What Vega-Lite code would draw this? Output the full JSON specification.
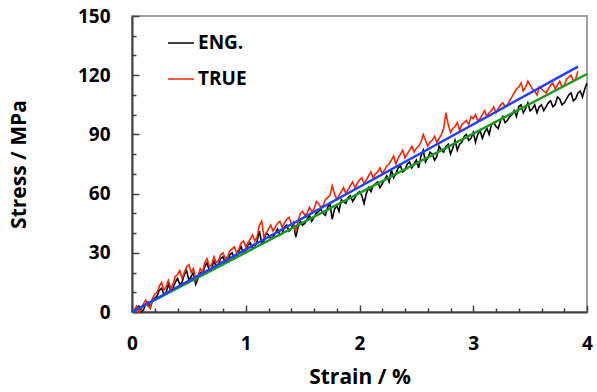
{
  "$schema": "https://vega.github.io/schema/vega-lite/v6.json",
  "width": 455,
  "height": 296,
  "autosize": {"type": "none"},
  "padding": {"left": 132, "top": 16, "right": 10, "bottom": 80},
  "config": {
    "view": {"stroke": "#a0a0a0", "strokeWidth": 2},
    "font": "Open Sans",
    "axis": {"grid": false, "labelFont": "Open Sans", "titleFont": "Open Sans", "labelFontWeight": "bold", "titleFontWeight": "bold", "labelColor": "#000", "titleColor": "#000", "tickColor": "#404040", "domainColor": "#404040", "labelOverlap": false, "labelFlush": false, "labelBound": false}
  },
  "datasets": {
    "raw": [
      {"strain":0.00,"stress":0,"series":"ENG."},{"strain":0.04,"stress":2,"series":"ENG."},{"strain":0.08,"stress":0,"series":"ENG."},{"strain":0.12,"stress":4,"series":"ENG."},{"strain":0.16,"stress":2,"series":"ENG."},{"strain":0.20,"stress":7,"series":"ENG."},{"strain":0.24,"stress":11,"series":"ENG."},{"strain":0.28,"stress":9,"series":"ENG."},{"strain":0.32,"stress":14,"series":"ENG."},{"strain":0.36,"stress":12,"series":"ENG."},{"strain":0.40,"stress":17,"series":"ENG."},{"strain":0.44,"stress":15,"series":"ENG."},{"strain":0.48,"stress":21,"series":"ENG."},{"strain":0.52,"stress":18,"series":"ENG."},{"strain":0.56,"stress":14,"series":"ENG."},{"strain":0.60,"stress":20,"series":"ENG."},{"strain":0.64,"stress":23,"series":"ENG."},{"strain":0.68,"stress":21,"series":"ENG."},{"strain":0.72,"stress":26,"series":"ENG."},{"strain":0.76,"stress":24,"series":"ENG."},{"strain":0.80,"stress":28,"series":"ENG."},{"strain":0.84,"stress":26,"series":"ENG."},{"strain":0.88,"stress":30,"series":"ENG."},{"strain":0.92,"stress":28,"series":"ENG."},{"strain":0.96,"stress":33,"series":"ENG."},{"strain":1.00,"stress":31,"series":"ENG."},{"strain":1.04,"stress":35,"series":"ENG."},{"strain":1.08,"stress":33,"series":"ENG."},{"strain":1.12,"stress":41,"series":"ENG."},{"strain":1.16,"stress":36,"series":"ENG."},{"strain":1.20,"stress":39,"series":"ENG."},{"strain":1.24,"stress":38,"series":"ENG."},{"strain":1.28,"stress":42,"series":"ENG."},{"strain":1.32,"stress":40,"series":"ENG."},{"strain":1.36,"stress":44,"series":"ENG."},{"strain":1.40,"stress":42,"series":"ENG."},{"strain":1.44,"stress":38,"series":"ENG."},{"strain":1.48,"stress":46,"series":"ENG."},{"strain":1.52,"stress":45,"series":"ENG."},{"strain":1.56,"stress":49,"series":"ENG."},{"strain":1.60,"stress":48,"series":"ENG."},{"strain":1.64,"stress":51,"series":"ENG."},{"strain":1.68,"stress":50,"series":"ENG."},{"strain":1.72,"stress":53,"series":"ENG."},{"strain":1.76,"stress":47,"series":"ENG."},{"strain":1.80,"stress":54,"series":"ENG."},{"strain":1.84,"stress":57,"series":"ENG."},{"strain":1.88,"stress":55,"series":"ENG."},{"strain":1.92,"stress":59,"series":"ENG."},{"strain":1.96,"stress":58,"series":"ENG."},{"strain":2.00,"stress":61,"series":"ENG."},{"strain":2.04,"stress":55,"series":"ENG."},{"strain":2.08,"stress":63,"series":"ENG."},{"strain":2.12,"stress":64,"series":"ENG."},{"strain":2.16,"stress":66,"series":"ENG."},{"strain":2.20,"stress":65,"series":"ENG."},{"strain":2.24,"stress":69,"series":"ENG."},{"strain":2.28,"stress":72,"series":"ENG."},{"strain":2.32,"stress":70,"series":"ENG."},{"strain":2.36,"stress":74,"series":"ENG."},{"strain":2.40,"stress":72,"series":"ENG."},{"strain":2.44,"stress":76,"series":"ENG."},{"strain":2.48,"stress":75,"series":"ENG."},{"strain":2.52,"stress":73,"series":"ENG."},{"strain":2.56,"stress":82,"series":"ENG."},{"strain":2.60,"stress":78,"series":"ENG."},{"strain":2.64,"stress":80,"series":"ENG."},{"strain":2.68,"stress":79,"series":"ENG."},{"strain":2.72,"stress":82,"series":"ENG."},{"strain":2.76,"stress":84,"series":"ENG."},{"strain":2.80,"stress":80,"series":"ENG."},{"strain":2.84,"stress":87,"series":"ENG."},{"strain":2.88,"stress":85,"series":"ENG."},{"strain":2.92,"stress":89,"series":"ENG."},{"strain":2.96,"stress":87,"series":"ENG."},{"strain":3.00,"stress":91,"series":"ENG."},{"strain":3.04,"stress":90,"series":"ENG."},{"strain":3.08,"stress":88,"series":"ENG."},{"strain":3.12,"stress":93,"series":"ENG."},{"strain":3.16,"stress":95,"series":"ENG."},{"strain":3.20,"stress":94,"series":"ENG."},{"strain":3.24,"stress":97,"series":"ENG."},{"strain":3.28,"stress":96,"series":"ENG."},{"strain":3.32,"stress":99,"series":"ENG."},{"strain":3.36,"stress":102,"series":"ENG."},{"strain":3.40,"stress":104,"series":"ENG."},{"strain":3.44,"stress":101,"series":"ENG."},{"strain":3.48,"stress":106,"series":"ENG."},{"strain":3.52,"stress":103,"series":"ENG."},{"strain":3.56,"stress":101,"series":"ENG."},{"strain":3.60,"stress":105,"series":"ENG."},{"strain":3.64,"stress":104,"series":"ENG."},{"strain":3.68,"stress":107,"series":"ENG."},{"strain":3.72,"stress":105,"series":"ENG."},{"strain":3.76,"stress":108,"series":"ENG."},{"strain":3.80,"stress":106,"series":"ENG."},{"strain":3.84,"stress":110,"series":"ENG."},{"strain":3.88,"stress":107,"series":"ENG."},{"strain":3.92,"stress":111,"series":"ENG."},{"strain":3.96,"stress":109,"series":"ENG."},{"strain":4.00,"stress":116,"series":"ENG."},
      {"strain":0.02,"stress":1,"series":"ENG."},{"strain":0.06,"stress":3,"series":"ENG."},{"strain":0.10,"stress":1,"series":"ENG."},{"strain":0.14,"stress":5,"series":"ENG."},{"strain":0.18,"stress":6,"series":"ENG."},{"strain":0.22,"stress":8,"series":"ENG."},{"strain":0.26,"stress":12,"series":"ENG."},{"strain":0.30,"stress":10,"series":"ENG."},{"strain":0.34,"stress":11,"series":"ENG."},{"strain":0.38,"stress":15,"series":"ENG."},{"strain":0.42,"stress":14,"series":"ENG."},{"strain":0.46,"stress":19,"series":"ENG."},{"strain":0.50,"stress":16,"series":"ENG."},{"strain":0.54,"stress":20,"series":"ENG."},{"strain":0.58,"stress":17,"series":"ENG."},{"strain":0.62,"stress":19,"series":"ENG."},{"strain":0.66,"stress":25,"series":"ENG."},{"strain":0.70,"stress":22,"series":"ENG."},{"strain":0.74,"stress":23,"series":"ENG."},{"strain":0.78,"stress":27,"series":"ENG."},{"strain":0.82,"stress":25,"series":"ENG."},{"strain":0.86,"stress":29,"series":"ENG."},{"strain":0.90,"stress":27,"series":"ENG."},{"strain":0.94,"stress":31,"series":"ENG."},{"strain":0.98,"stress":30,"series":"ENG."},{"strain":1.02,"stress":34,"series":"ENG."},{"strain":1.06,"stress":32,"series":"ENG."},{"strain":1.10,"stress":36,"series":"ENG."},{"strain":1.14,"stress":35,"series":"ENG."},{"strain":1.18,"stress":40,"series":"ENG."},{"strain":1.22,"stress":37,"series":"ENG."},{"strain":1.26,"stress":40,"series":"ENG."},{"strain":1.30,"stress":39,"series":"ENG."},{"strain":1.34,"stress":43,"series":"ENG."},{"strain":1.38,"stress":41,"series":"ENG."},{"strain":1.42,"stress":45,"series":"ENG."},{"strain":1.46,"stress":43,"series":"ENG."},{"strain":1.50,"stress":44,"series":"ENG."},{"strain":1.54,"stress":47,"series":"ENG."},{"strain":1.58,"stress":46,"series":"ENG."},{"strain":1.62,"stress":50,"series":"ENG."},{"strain":1.66,"stress":52,"series":"ENG."},{"strain":1.70,"stress":49,"series":"ENG."},{"strain":1.74,"stress":55,"series":"ENG."},{"strain":1.78,"stress":52,"series":"ENG."},{"strain":1.82,"stress":51,"series":"ENG."},{"strain":1.86,"stress":56,"series":"ENG."},{"strain":1.90,"stress":58,"series":"ENG."},{"strain":1.94,"stress":56,"series":"ENG."},{"strain":1.98,"stress":60,"series":"ENG."},{"strain":2.02,"stress":59,"series":"ENG."},{"strain":2.06,"stress":60,"series":"ENG."},{"strain":2.10,"stress":61,"series":"ENG."},{"strain":2.14,"stress":65,"series":"ENG."},{"strain":2.18,"stress":63,"series":"ENG."},{"strain":2.22,"stress":67,"series":"ENG."},{"strain":2.26,"stress":66,"series":"ENG."},{"strain":2.30,"stress":68,"series":"ENG."},{"strain":2.34,"stress":73,"series":"ENG."},{"strain":2.38,"stress":71,"series":"ENG."},{"strain":2.42,"stress":75,"series":"ENG."},{"strain":2.46,"stress":73,"series":"ENG."},{"strain":2.50,"stress":77,"series":"ENG."},{"strain":2.54,"stress":79,"series":"ENG."},{"strain":2.58,"stress":76,"series":"ENG."},{"strain":2.62,"stress":81,"series":"ENG."},{"strain":2.66,"stress":77,"series":"ENG."},{"strain":2.70,"stress":84,"series":"ENG."},{"strain":2.74,"stress":81,"series":"ENG."},{"strain":2.78,"stress":85,"series":"ENG."},{"strain":2.82,"stress":83,"series":"ENG."},{"strain":2.86,"stress":82,"series":"ENG."},{"strain":2.90,"stress":86,"series":"ENG."},{"strain":2.94,"stress":90,"series":"ENG."},{"strain":2.98,"stress":88,"series":"ENG."},{"strain":3.02,"stress":86,"series":"ENG."},{"strain":3.06,"stress":92,"series":"ENG."},{"strain":3.10,"stress":91,"series":"ENG."},{"strain":3.14,"stress":90,"series":"ENG."},{"strain":3.18,"stress":96,"series":"ENG."},{"strain":3.22,"stress":93,"series":"ENG."},{"strain":3.26,"stress":99,"series":"ENG."},{"strain":3.30,"stress":97,"series":"ENG."},{"strain":3.34,"stress":100,"series":"ENG."},{"strain":3.38,"stress":99,"series":"ENG."},{"strain":3.42,"stress":105,"series":"ENG."},{"strain":3.46,"stress":103,"series":"ENG."},{"strain":3.50,"stress":102,"series":"ENG."},{"strain":3.54,"stress":105,"series":"ENG."},{"strain":3.58,"stress":104,"series":"ENG."},{"strain":3.62,"stress":102,"series":"ENG."},{"strain":3.66,"stress":106,"series":"ENG."},{"strain":3.70,"stress":104,"series":"ENG."},{"strain":3.74,"stress":109,"series":"ENG."},{"strain":3.78,"stress":105,"series":"ENG."},{"strain":3.82,"stress":108,"series":"ENG."},{"strain":3.86,"stress":111,"series":"ENG."},{"strain":3.90,"stress":108,"series":"ENG."},{"strain":3.94,"stress":112,"series":"ENG."},{"strain":3.98,"stress":113,"series":"ENG."},
      {"strain":0.00,"stress":0,"series":"TRUE"},{"strain":0.04,"stress":3,"series":"TRUE"},{"strain":0.08,"stress":1,"series":"TRUE"},{"strain":0.12,"stress":6,"series":"TRUE"},{"strain":0.16,"stress":2,"series":"TRUE"},{"strain":0.20,"stress":9,"series":"TRUE"},{"strain":0.24,"stress":13,"series":"TRUE"},{"strain":0.28,"stress":11,"series":"TRUE"},{"strain":0.32,"stress":16,"series":"TRUE"},{"strain":0.36,"stress":14,"series":"TRUE"},{"strain":0.40,"stress":19,"series":"TRUE"},{"strain":0.44,"stress":17,"series":"TRUE"},{"strain":0.48,"stress":23,"series":"TRUE"},{"strain":0.52,"stress":20,"series":"TRUE"},{"strain":0.56,"stress":16,"series":"TRUE"},{"strain":0.60,"stress":22,"series":"TRUE"},{"strain":0.64,"stress":25,"series":"TRUE"},{"strain":0.68,"stress":23,"series":"TRUE"},{"strain":0.72,"stress":28,"series":"TRUE"},{"strain":0.76,"stress":26,"series":"TRUE"},{"strain":0.80,"stress":30,"series":"TRUE"},{"strain":0.84,"stress":28,"series":"TRUE"},{"strain":0.88,"stress":32,"series":"TRUE"},{"strain":0.92,"stress":30,"series":"TRUE"},{"strain":0.96,"stress":35,"series":"TRUE"},{"strain":1.00,"stress":33,"series":"TRUE"},{"strain":1.04,"stress":37,"series":"TRUE"},{"strain":1.08,"stress":36,"series":"TRUE"},{"strain":1.12,"stress":44,"series":"TRUE"},{"strain":1.16,"stress":38,"series":"TRUE"},{"strain":1.20,"stress":42,"series":"TRUE"},{"strain":1.24,"stress":41,"series":"TRUE"},{"strain":1.28,"stress":45,"series":"TRUE"},{"strain":1.32,"stress":43,"series":"TRUE"},{"strain":1.36,"stress":47,"series":"TRUE"},{"strain":1.40,"stress":45,"series":"TRUE"},{"strain":1.44,"stress":41,"series":"TRUE"},{"strain":1.48,"stress":50,"series":"TRUE"},{"strain":1.52,"stress":49,"series":"TRUE"},{"strain":1.56,"stress":53,"series":"TRUE"},{"strain":1.60,"stress":52,"series":"TRUE"},{"strain":1.64,"stress":55,"series":"TRUE"},{"strain":1.68,"stress":54,"series":"TRUE"},{"strain":1.72,"stress":58,"series":"TRUE"},{"strain":1.76,"stress":64,"series":"TRUE"},{"strain":1.80,"stress":57,"series":"TRUE"},{"strain":1.84,"stress":61,"series":"TRUE"},{"strain":1.88,"stress":60,"series":"TRUE"},{"strain":1.92,"stress":64,"series":"TRUE"},{"strain":1.96,"stress":63,"series":"TRUE"},{"strain":2.00,"stress":67,"series":"TRUE"},{"strain":2.04,"stress":65,"series":"TRUE"},{"strain":2.08,"stress":69,"series":"TRUE"},{"strain":2.12,"stress":68,"series":"TRUE"},{"strain":2.16,"stress":71,"series":"TRUE"},{"strain":2.20,"stress":70,"series":"TRUE"},{"strain":2.24,"stress":74,"series":"TRUE"},{"strain":2.28,"stress":77,"series":"TRUE"},{"strain":2.32,"stress":75,"series":"TRUE"},{"strain":2.36,"stress":80,"series":"TRUE"},{"strain":2.40,"stress":78,"series":"TRUE"},{"strain":2.44,"stress":82,"series":"TRUE"},{"strain":2.48,"stress":81,"series":"TRUE"},{"strain":2.52,"stress":84,"series":"TRUE"},{"strain":2.56,"stress":90,"series":"TRUE"},{"strain":2.60,"stress":84,"series":"TRUE"},{"strain":2.64,"stress":87,"series":"TRUE"},{"strain":2.68,"stress":86,"series":"TRUE"},{"strain":2.72,"stress":90,"series":"TRUE"},{"strain":2.76,"stress":101,"series":"TRUE"},{"strain":2.80,"stress":91,"series":"TRUE"},{"strain":2.84,"stress":94,"series":"TRUE"},{"strain":2.88,"stress":92,"series":"TRUE"},{"strain":2.92,"stress":96,"series":"TRUE"},{"strain":2.96,"stress":95,"series":"TRUE"},{"strain":3.00,"stress":98,"series":"TRUE"},{"strain":3.04,"stress":97,"series":"TRUE"},{"strain":3.08,"stress":100,"series":"TRUE"},{"strain":3.12,"stress":99,"series":"TRUE"},{"strain":3.16,"stress":102,"series":"TRUE"},{"strain":3.20,"stress":101,"series":"TRUE"},{"strain":3.24,"stress":105,"series":"TRUE"},{"strain":3.28,"stress":104,"series":"TRUE"},{"strain":3.32,"stress":107,"series":"TRUE"},{"strain":3.36,"stress":111,"series":"TRUE"},{"strain":3.40,"stress":114,"series":"TRUE"},{"strain":3.44,"stress":112,"series":"TRUE"},{"strain":3.48,"stress":117,"series":"TRUE"},{"strain":3.52,"stress":113,"series":"TRUE"},{"strain":3.56,"stress":110,"series":"TRUE"},{"strain":3.60,"stress":113,"series":"TRUE"},{"strain":3.64,"stress":111,"series":"TRUE"},{"strain":3.68,"stress":115,"series":"TRUE"},{"strain":3.72,"stress":113,"series":"TRUE"},{"strain":3.76,"stress":117,"series":"TRUE"},{"strain":3.80,"stress":115,"series":"TRUE"},{"strain":3.84,"stress":119,"series":"TRUE"},{"strain":3.88,"stress":117,"series":"TRUE"},{"strain":3.92,"stress":122,"series":"TRUE"},
      {"strain":0.02,"stress":1,"series":"TRUE"},{"strain":0.06,"stress":0,"series":"TRUE"},{"strain":0.10,"stress":4,"series":"TRUE"},{"strain":0.14,"stress":3,"series":"TRUE"},{"strain":0.18,"stress":7,"series":"TRUE"},{"strain":0.22,"stress":10,"series":"TRUE"},{"strain":0.26,"stress":15,"series":"TRUE"},{"strain":0.30,"stress":13,"series":"TRUE"},{"strain":0.34,"stress":12,"series":"TRUE"},{"strain":0.38,"stress":18,"series":"TRUE"},{"strain":0.42,"stress":21,"series":"TRUE"},{"strain":0.46,"stress":20,"series":"TRUE"},{"strain":0.50,"stress":24,"series":"TRUE"},{"strain":0.54,"stress":22,"series":"TRUE"},{"strain":0.58,"stress":18,"series":"TRUE"},{"strain":0.62,"stress":20,"series":"TRUE"},{"strain":0.66,"stress":27,"series":"TRUE"},{"strain":0.70,"stress":24,"series":"TRUE"},{"strain":0.74,"stress":25,"series":"TRUE"},{"strain":0.78,"stress":29,"series":"TRUE"},{"strain":0.82,"stress":27,"series":"TRUE"},{"strain":0.86,"stress":31,"series":"TRUE"},{"strain":0.90,"stress":33,"series":"TRUE"},{"strain":0.94,"stress":32,"series":"TRUE"},{"strain":0.98,"stress":36,"series":"TRUE"},{"strain":1.02,"stress":35,"series":"TRUE"},{"strain":1.06,"stress":39,"series":"TRUE"},{"strain":1.10,"stress":38,"series":"TRUE"},{"strain":1.14,"stress":46,"series":"TRUE"},{"strain":1.18,"stress":40,"series":"TRUE"},{"strain":1.22,"stress":44,"series":"TRUE"},{"strain":1.26,"stress":43,"series":"TRUE"},{"strain":1.30,"stress":46,"series":"TRUE"},{"strain":1.34,"stress":45,"series":"TRUE"},{"strain":1.38,"stress":48,"series":"TRUE"},{"strain":1.42,"stress":44,"series":"TRUE"},{"strain":1.46,"stress":46,"series":"TRUE"},{"strain":1.50,"stress":51,"series":"TRUE"},{"strain":1.54,"stress":50,"series":"TRUE"},{"strain":1.58,"stress":51,"series":"TRUE"},{"strain":1.62,"stress":56,"series":"TRUE"},{"strain":1.66,"stress":53,"series":"TRUE"},{"strain":1.70,"stress":57,"series":"TRUE"},{"strain":1.74,"stress":59,"series":"TRUE"},{"strain":1.78,"stress":60,"series":"TRUE"},{"strain":1.82,"stress":59,"series":"TRUE"},{"strain":1.86,"stress":63,"series":"TRUE"},{"strain":1.90,"stress":62,"series":"TRUE"},{"strain":1.94,"stress":66,"series":"TRUE"},{"strain":1.98,"stress":65,"series":"TRUE"},{"strain":2.02,"stress":68,"series":"TRUE"},{"strain":2.06,"stress":67,"series":"TRUE"},{"strain":2.10,"stress":71,"series":"TRUE"},{"strain":2.14,"stress":70,"series":"TRUE"},{"strain":2.18,"stress":73,"series":"TRUE"},{"strain":2.22,"stress":72,"series":"TRUE"},{"strain":2.26,"stress":75,"series":"TRUE"},{"strain":2.30,"stress":79,"series":"TRUE"},{"strain":2.34,"stress":78,"series":"TRUE"},{"strain":2.38,"stress":82,"series":"TRUE"},{"strain":2.42,"stress":80,"series":"TRUE"},{"strain":2.46,"stress":84,"series":"TRUE"},{"strain":2.50,"stress":83,"series":"TRUE"},{"strain":2.54,"stress":86,"series":"TRUE"},{"strain":2.58,"stress":87,"series":"TRUE"},{"strain":2.62,"stress":86,"series":"TRUE"},{"strain":2.66,"stress":89,"series":"TRUE"},{"strain":2.70,"stress":88,"series":"TRUE"},{"strain":2.74,"stress":93,"series":"TRUE"},{"strain":2.78,"stress":95,"series":"TRUE"},{"strain":2.82,"stress":93,"series":"TRUE"},{"strain":2.86,"stress":96,"series":"TRUE"},{"strain":2.90,"stress":95,"series":"TRUE"},{"strain":2.94,"stress":97,"series":"TRUE"},{"strain":2.98,"stress":99,"series":"TRUE"},{"strain":3.02,"stress":100,"series":"TRUE"},{"strain":3.06,"stress":98,"series":"TRUE"},{"strain":3.10,"stress":102,"series":"TRUE"},{"strain":3.14,"stress":101,"series":"TRUE"},{"strain":3.18,"stress":104,"series":"TRUE"},{"strain":3.22,"stress":103,"series":"TRUE"},{"strain":3.26,"stress":106,"series":"TRUE"},{"strain":3.30,"stress":105,"series":"TRUE"},{"strain":3.34,"stress":109,"series":"TRUE"},{"strain":3.38,"stress":113,"series":"TRUE"},{"strain":3.42,"stress":116,"series":"TRUE"},{"strain":3.46,"stress":114,"series":"TRUE"},{"strain":3.50,"stress":115,"series":"TRUE"},{"strain":3.54,"stress":112,"series":"TRUE"},{"strain":3.58,"stress":114,"series":"TRUE"},{"strain":3.62,"stress":112,"series":"TRUE"},{"strain":3.66,"stress":113,"series":"TRUE"},{"strain":3.70,"stress":116,"series":"TRUE"},{"strain":3.74,"stress":115,"series":"TRUE"},{"strain":3.78,"stress":114,"series":"TRUE"},{"strain":3.82,"stress":118,"series":"TRUE"},{"strain":3.86,"stress":120,"series":"TRUE"},{"strain":3.90,"stress":118,"series":"TRUE"}
    ],
    "fit": [
      {"strain":0,"stress":0,"fit":"green"},{"strain":4.0,"stress":120.6,"fit":"green"},
      {"strain":0,"stress":0,"fit":"blue"},{"strain":3.92,"stress":124.3,"fit":"blue"}
    ]
  },
  "layer": [
    {
      "data": {"name": "raw"},
      "mark": {"type": "line", "strokeWidth": 1.6},
      "encoding": {
        "x": {"field": "strain", "type": "quantitative", "scale": {"domain": [0, 4], "nice": false},
          "axis": {"orient": "bottom", "values": [0,1,2,3,4], "format": "d",
            "tickSize": -7, "tickWidth": 1.5, "domainWidth": 2, "labelFontSize": 19, "labelPadding": 29, "title": "Strain / %", "titleFontSize": 21, "titlePadding": 13}},
        "y": {"field": "stress", "type": "quantitative", "scale": {"domain": [0, 150], "nice": false},
          "axis": {"orient": "left", "values": [0,30,60,90,120,150],
            "tickSize": -7, "tickWidth": 1.5, "domainWidth": 2, "labelFontSize": 19, "labelPadding": 29, "title": "Stress / MPa", "titleFontSize": 21, "titlePadding": 48}},
        "color": {"field": "series", "type": "nominal", "sort": ["ENG.", "TRUE"],
          "scale": {"domain": ["ENG.", "TRUE"], "range": ["#000000", "#ff2200"]},
          "legend": {"orient": "none", "legendX": 35, "legendY": 13, "title": null, "symbolType": "stroke", "symbolSize": 676, "symbolStrokeWidth": 1.5, "labelFontSize": 19, "labelFontWeight": "bold", "labelFont": "Open Sans", "labelColor": "#000", "labelOffset": 3, "rowPadding": 12, "padding": 0}}
      }
    },
    {
      "data": {"name": "fit"},
      "transform": [{"filter": "datum.fit === 'green'"}],
      "mark": {"type": "line", "strokeWidth": 2.5, "color": "#1a9a1a"},
      "encoding": {
        "x": {"field": "strain", "type": "quantitative",
          "axis": {"orient": "bottom", "values": [0.2,0.4,0.6,0.8,1.2,1.4,1.6,1.8,2.2,2.4,2.6,2.8,3.2,3.4,3.6,3.8], "tickSize": -4, "tickWidth": 1.5, "labels": false, "domain": false, "title": null}},
        "y": {"field": "stress", "type": "quantitative",
          "axis": {"orient": "left", "values": [10,20,40,50,70,80,100,110,130,140], "tickSize": -4, "tickWidth": 1.5, "labels": false, "domain": false, "title": null}}
      }
    },
    {
      "data": {"name": "fit"},
      "transform": [{"filter": "datum.fit === 'blue'"}],
      "mark": {"type": "line", "strokeWidth": 2.5, "color": "#2040ff"},
      "encoding": {
        "x": {"field": "strain", "type": "quantitative", "axis": null},
        "y": {"field": "stress", "type": "quantitative", "axis": null}
      }
    }
  ],
  "resolve": {"axis": {"x": "independent", "y": "independent"}}
}
